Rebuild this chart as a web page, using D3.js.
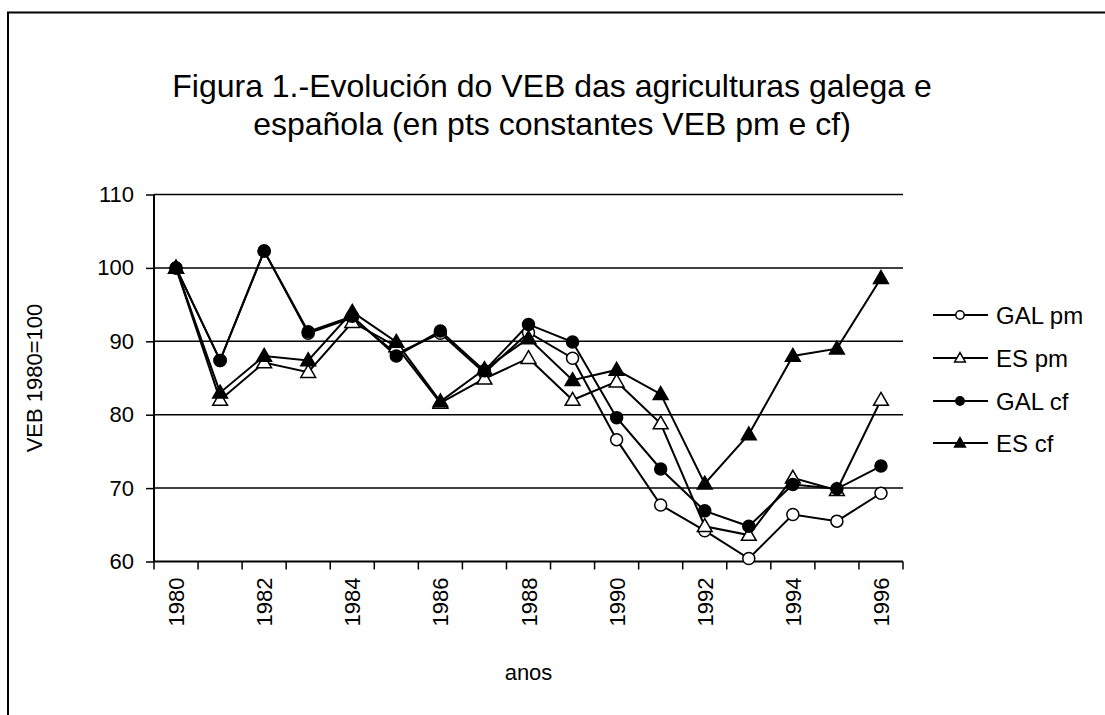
<!DOCTYPE html>
<html><head><meta charset="utf-8">
<script src="https://cdn.jsdelivr.net/npm/d3@7"></script>
<style>
html,body{margin:0;padding:0;background:#fff;}
svg{display:block;font-family:"Liberation Sans",Arial,sans-serif;}
</style></head>
<body>
<svg id="chart" width="1105" height="715"></svg>
<script>
const years = [1980,1981,1982,1983,1984,1985,1986,1987,1988,1989,1990,1991,1992,1993,1994,1995,1996];
const galPm = [100,87.4,102.3,91.1,93.2,88.3,91.1,85.7,91.2,87.7,76.6,67.7,64.2,60.4,66.4,65.5,69.3];
const esPm  = [100,82.0,87.1,85.8,92.6,89.3,81.6,84.9,87.7,82.0,84.5,78.8,64.8,63.6,71.4,69.7,82.0];
const galCf = [100,87.4,102.3,91.3,93.4,88.0,91.4,86.0,92.3,89.9,79.6,72.6,66.9,64.8,70.5,69.9,73.0];
const esCf  = [100,83.0,88.0,87.4,94.0,89.9,81.8,86.2,90.4,84.7,86.1,82.8,70.6,77.3,88.0,89.0,98.6];
const yTicks = [60,70,80,90,100,110];
const xTickLabels = [1980,1982,1984,1986,1988,1990,1992,1994,1996];
const seriesNames = ["GAL pm","ES pm","GAL cf","ES cf"];
const titleLines = ["Figura 1.-Evolución do VEB das agriculturas galega e","española (en pts constantes VEB pm e cf)"];
const yTitle = "VEB 1980=100";
const xTitle = "anos";

const series = [
  {name: seriesNames[0], values: galPm, shape: "circle", fill: "#fff"},
  {name: seriesNames[1], values: esPm, shape: "triangle", fill: "#fff"},
  {name: seriesNames[2], values: galCf, shape: "circle", fill: "#000"},
  {name: seriesNames[3], values: esCf, shape: "triangle", fill: "#000"}
];

const svg = d3.select("#chart");
const L = 154, R = 903, T = 194.5, B = 561.5;

// outer frame
svg.append("rect").attr("x",8).attr("y",12.5).attr("width",1200).attr("height",800)
  .attr("fill","none").attr("stroke","#000").attr("stroke-width",2);

const x = d3.scaleBand().domain(years).range([L,R]).padding(0);
const y = d3.scaleLinear().domain([60,110]).range([B,T]);

// gridlines
svg.append("g").selectAll("line").data(yTicks.filter(d=>d>60)).join("line")
  .attr("x1",L).attr("x2",R).attr("y1",d=>y(d)).attr("y2",d=>y(d))
  .attr("stroke","#000").attr("stroke-width",1.5);

// y axis
const yAxis = svg.append("g").attr("transform",`translate(${L},0)`)
  .call(d3.axisLeft(y).tickValues(yTicks).tickSize(8).tickPadding(12).tickFormat(d3.format("d")));
yAxis.select(".domain").attr("stroke-width",2).attr("d",`M0,${T}V${B}`);
yAxis.selectAll(".tick line").attr("stroke-width",1.5);
yAxis.selectAll("text").attr("font-size",22).attr("font-family","Liberation Sans, Arial, sans-serif").attr("fill","#000");

// x axis
const xAxisG = svg.append("g").attr("transform",`translate(0,${B})`);
xAxisG.append("line").attr("x1",L).attr("x2",R).attr("y1",0).attr("y2",0).attr("stroke","#000").attr("stroke-width",2);
const bounds = years.map(d=>x(d)).concat([x(years[years.length-1])+x.bandwidth()]);
xAxisG.selectAll("line.tk").data(bounds).join("line").attr("class","tk")
  .attr("x1",d=>d).attr("x2",d=>d).attr("y1",0).attr("y2",8).attr("stroke","#000").attr("stroke-width",1.5);
xAxisG.selectAll("text").data(xTickLabels).join("text")
  .attr("transform",d=>`translate(${x(d)+x.bandwidth()/2+8},16) rotate(-90)`)
  .attr("text-anchor","end").attr("font-size",22).text(d=>d);

// lines
const line = d3.line().x((d,i)=>x(years[i])+x.bandwidth()/2).y(d=>y(d));
const tri = d3.symbol().type(d3.symbolTriangle);
function drawMarker(g, shape, fill, cx, cy, big){
  if(shape==="circle"){
    g.append("circle").attr("cx",cx).attr("cy",cy).attr("r",big?6:4.2)
      .attr("fill",fill).attr("stroke","#000").attr("stroke-width",1.5);
  } else {
    g.append("path").attr("d",tri.size(big?95:50)()).attr("transform",`translate(${cx},${cy+ (big?1:0.8)})`)
      .attr("fill",fill).attr("stroke","#000").attr("stroke-width",1.5);
  }
}
series.forEach(s=>{
  svg.append("path").datum(s.values).attr("d",line).attr("fill","none").attr("stroke","#000").attr("stroke-width",2);
});
series.forEach(s=>{
  const g = svg.append("g");
  s.values.forEach((v,i)=>drawMarker(g,s.shape,s.fill,x(years[i])+x.bandwidth()/2,y(v),true));
});

// legend
const legY = [315,358,401,443];
series.forEach((s,i)=>{
  const g = svg.append("g");
  g.append("line").attr("x1",933).attr("x2",988).attr("y1",legY[i]).attr("y2",legY[i]).attr("stroke","#000").attr("stroke-width",2);
  drawMarker(g,s.shape,s.fill,960,legY[i],false);
  g.append("text").attr("x",996).attr("y",legY[i]+9).attr("font-size",24).text(s.name);
});

// titles
svg.append("text").attr("x",552).attr("y",97).attr("text-anchor","middle").attr("font-size",32).text(titleLines[0]);
svg.append("text").attr("x",552).attr("y",135).attr("text-anchor","middle").attr("font-size",32).text(titleLines[1]);
svg.append("text").attr("transform",`translate(42,${(T+B)/2}) rotate(-90)`).attr("text-anchor","middle").attr("font-size",22).text(yTitle);
svg.append("text").attr("x",(L+R)/2).attr("y",680).attr("text-anchor","middle").attr("font-size",22).text(xTitle);
</script>
</body></html>
